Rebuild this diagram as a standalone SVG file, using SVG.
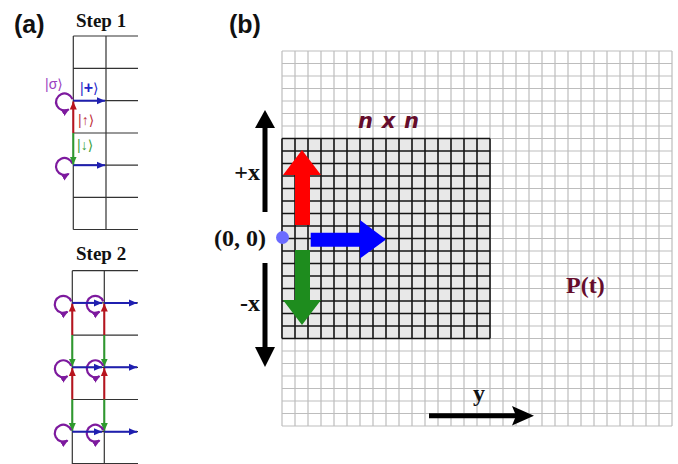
<svg xmlns="http://www.w3.org/2000/svg" width="678" height="464" viewBox="0 0 678 464">
<style>
.panel{font-family:"Liberation Sans",Arial,sans-serif;font-weight:bold;font-size:25px;fill:#111}
.step{font-family:"Liberation Serif","Times New Roman",serif;font-weight:bold;font-size:19px;fill:#111}
.ax{font-family:"Liberation Serif","Times New Roman",serif;font-weight:bold;font-size:24px;fill:#111}
.ket{font-family:"Liberation Sans","DejaVu Sans",sans-serif;font-size:14px}
.ag{stroke:#333;stroke-width:1.2;fill:none}
.og{stroke:#bdbdbd;stroke-width:1.2;fill:none}
.ig{stroke:#141414;stroke-width:1.6;fill:none}
.bl{stroke:#1f1fb0;stroke-width:2;fill:none;marker-end:url(#ah-b)}
.rd{stroke:#b8141e;stroke-width:2;fill:none;marker-end:url(#ah-r)}
.gr{stroke:#2e9a2e;stroke-width:2;fill:none;marker-end:url(#ah-g)}
.pu{stroke:#7d1a9e;stroke-width:2.2;fill:none;marker-end:url(#ah-p)}
.maroon{fill:#650d2c}
</style>
<defs>
<marker id="ah-b" viewBox="0 0 8 8" refX="8" refY="4" markerWidth="8" markerHeight="8" markerUnits="userSpaceOnUse" orient="auto"><path d="M0,0.5 L8,4 L0,7.5 z" fill="#1f1fb0"/></marker>
<marker id="ah-r" viewBox="0 0 8 8" refX="8" refY="4" markerWidth="8" markerHeight="8" markerUnits="userSpaceOnUse" orient="auto"><path d="M0,0.5 L8,4 L0,7.5 z" fill="#b8141e"/></marker>
<marker id="ah-g" viewBox="0 0 8 8" refX="8" refY="4" markerWidth="8" markerHeight="8" markerUnits="userSpaceOnUse" orient="auto"><path d="M0,0.5 L8,4 L0,7.5 z" fill="#2e9a2e"/></marker>
<marker id="ah-p" viewBox="0 0 8 8" refX="7" refY="4" markerWidth="8" markerHeight="8" markerUnits="userSpaceOnUse" orient="auto"><path d="M0,0.5 L8,4 L0,7.5 z" fill="#7d1a9e"/></marker>
</defs>
<rect width="678" height="464" fill="#fff"/>

<!-- Panel (a) -->
<g id="panel-a">
<text class="panel" x="14" y="33">(a)</text>
<g id="step1">
<text class="step" x="76" y="27">Step 1</text>
<path class="ag" d="M73.3 36V229.5M106 36V229.5M73.3 36H138M73.3 68.3H138M73.3 100.7H138M73.3 133H138M73.3 165.2H138M73.3 197.3H138M73.3 229.5H138"/>
<text class="ket" x="45" y="89" fill="#9b3fbf">|σ⟩</text>
<text class="ket" x="80" y="93" fill="#2424c8">|<tspan font-weight="bold" font-size="16px">+</tspan>⟩</text>
<text class="ket" x="78" y="125" fill="#c0303a">|↑⟩</text>
<text class="ket" x="77" y="150" fill="#3aa03a">|↓⟩</text>
</g>
<g id="step2">
<text class="step" x="76" y="260">Step 2</text>
<path class="ag" d="M72.3 270.7V464M104.3 270.7V464M72.3 270.7H138M72.3 302.9H138M72.3 335.1H138M72.3 367.3H138M72.3 399.5H138M72.3 431.7H138M72.3 463.5H138"/>
</g>
</g>

<!-- Panel (b) -->
<g id="panel-b">
<text class="panel" x="229" y="33">(b)</text>
<g id="lattice">
<path class="og" d="M282 51V426M295 51V426M308 51V426M321 51V426M334 51V426M347 51V426M360 51V426M373 51V426M386 51V426M399 51V426M412 51V426M425 51V426M438 51V426M451 51V426M464 51V426M477 51V426M490 51V426M503 51V426M516 51V426M529 51V426M542 51V426M555 51V426M568 51V426M581 51V426M594 51V426M607 51V426M620 51V426M633 51V426M646 51V426M659 51V426M672 51V426M282 51H672M282 63.5H672M282 76H672M282 88.5H672M282 101H672M282 113.5H672M282 126H672M282 138.5H672M282 151H672M282 163.5H672M282 176H672M282 188.5H672M282 201H672M282 213.5H672M282 226H672M282 238.5H672M282 251H672M282 263.5H672M282 276H672M282 288.5H672M282 301H672M282 313.5H672M282 326H672M282 338.5H672M282 351H672M282 363.5H672M282 376H672M282 388.5H672M282 401H672M282 413.5H672M282 426H672"/>
</g>
<g id="subgrid">
<rect x="282" y="138.5" width="208" height="200" fill="#e8e8e8"/>
<path class="ig" d="M282 138.5V338.5M295 138.5V338.5M308 138.5V338.5M321 138.5V338.5M334 138.5V338.5M347 138.5V338.5M360 138.5V338.5M373 138.5V338.5M386 138.5V338.5M399 138.5V338.5M412 138.5V338.5M425 138.5V338.5M438 138.5V338.5M451 138.5V338.5M464 138.5V338.5M477 138.5V338.5M490 138.5V338.5M282 138.5H490M282 151H490M282 163.5H490M282 176H490M282 188.5H490M282 201H490M282 213.5H490M282 226H490M282 238.5H490M282 251H490M282 263.5H490M282 276H490M282 288.5H490M282 301H490M282 313.5H490M282 326H490M282 338.5H490"/>
<text class="maroon" x="358" y="128" font-family="'DejaVu Sans',Verdana,sans-serif" font-weight="bold" font-style="italic" font-size="21" textLength="61" lengthAdjust="spacing">n x n</text>
</g>
<g id="origin">
<circle cx="282.5" cy="237.5" r="6.5" fill="#6b6bff"/>
<text class="ax" x="266" y="246" text-anchor="end">(0, 0)</text>
</g>
<g id="axis-x">
<text class="ax" x="260" y="180" text-anchor="end">+x</text>
<text class="ax" x="260" y="311" text-anchor="end">-x</text>
</g>
<g id="axis-y">
<text class="ax" x="473" y="401" font-size="26">y</text>
</g>
<g id="label-pt">
<text class="ax maroon" x="566" y="293" font-size="26">P(t)</text>
</g>
</g>

<!-- Connectors -->
<g id="connectors">
<!-- step 1 -->
<path class="pu" d="M72.49 99.09A8.5 8.5 0 1 0 68.75 109.36"/>
<path class="pu" d="M72.49 163.59A8.5 8.5 0 1 0 68.75 173.86"/>
<path class="bl" d="M73.3 100.7H105"/>
<path class="bl" d="M73.3 165.2H105"/>
<path class="rd" d="M73.3 133V101.5"/>
<path class="gr" d="M73.3 133V164.5"/>
<!-- step 2 -->
<path class="rd" d="M72.3 335.1V303.6"/>
<path class="rd" d="M104.3 335.1V303.6"/>
<path class="rd" d="M72.3 399.5V368"/>
<path class="rd" d="M104.3 399.5V368"/>
<path class="gr" d="M72.3 335.1V366.6"/>
<path class="gr" d="M104.3 335.1V366.6"/>
<path class="gr" d="M72.3 399.5V431"/>
<path class="gr" d="M104.3 399.5V431"/>
<path class="pu" d="M71.29 301.49A8.5 8.5 0 1 0 67.55 311.76"/>
<path class="pu" d="M103.29 301.49A8.5 8.5 0 1 0 99.55 311.76"/>
<path class="pu" d="M71.29 365.89A8.5 8.5 0 1 0 67.55 376.16"/>
<path class="pu" d="M103.29 365.89A8.5 8.5 0 1 0 99.55 376.16"/>
<path class="pu" d="M71.29 430.29A8.5 8.5 0 1 0 67.55 440.56"/>
<path class="pu" d="M103.29 430.29A8.5 8.5 0 1 0 99.55 440.56"/>
<path class="bl" d="M72.3 302.9H102"/>
<path class="bl" d="M104.3 302.9H137"/>
<path class="bl" d="M72.3 367.3H102"/>
<path class="bl" d="M104.3 367.3H137"/>
<path class="bl" d="M72.3 431.7H102"/>
<path class="bl" d="M104.3 431.7H137"/>
<!-- panel b arrows -->
<polygon points="295,225 295,175 283,175 302,150 321,175 310,175 310,225" fill="#ff0000"/>
<polygon points="310.7,232.7 360,232.7 360,220 386,239.5 360,258.5 360,246.7 310.7,246.7" fill="#0000ff"/>
<polygon points="295,250 310,250 310,300 321,300 302,325 283,300 295,300" fill="#1e8c1e"/>
<path d="M265 212V126" stroke="#000" stroke-width="5"/>
<polygon points="255,128 265,110 275,128" fill="#000"/>
<path d="M265 263V349" stroke="#000" stroke-width="5"/>
<polygon points="255,347 265,367 275,347" fill="#000"/>
<path d="M429 415.7H516" stroke="#000" stroke-width="5"/>
<polygon points="512,406 534,415.7 512,425.5 516,415.7" fill="#000"/>
</g>
</svg>
